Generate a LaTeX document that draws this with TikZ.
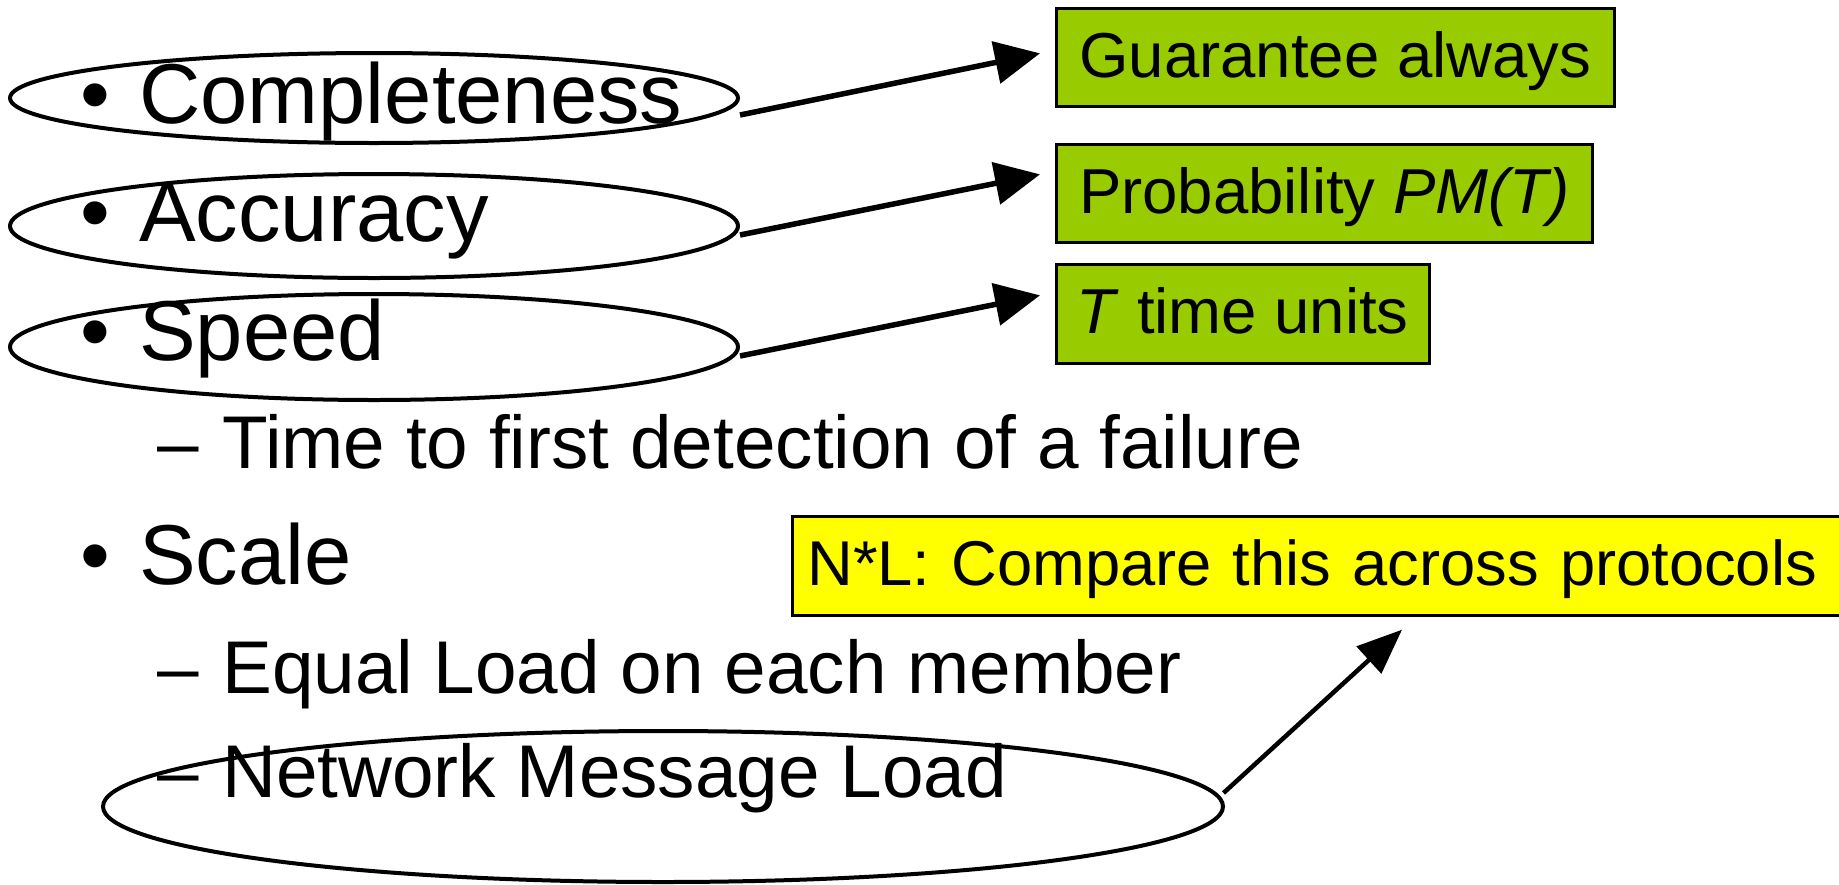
\documentclass[tikz,border=0pt]{standalone}
\usepackage{fontspec}
\setmainfont{Liberation Sans}
\usetikzlibrary{shapes.geometric,arrows.meta}
\definecolor{leaf}{RGB}{153,204,0}
\definecolor{note}{RGB}{255,255,0}

\begin{document}
\begin{tikzpicture}[x=1pt,y=-1pt,
  bigtext/.style={font=\fontsize{85}{100}\selectfont, anchor=base west, inner sep=0pt},
  subtext/.style={font=\fontsize{74.7}{88}\selectfont, anchor=base west, inner sep=0pt},
  ring/.style={draw, ellipse, line width=4pt, inner sep=0pt},
  notebox/.style={draw, line width=2.7pt,
    text height=50pt, text depth=10pt, inner sep=0pt, anchor=north west},
  greenbox/.style={notebox, fill=leaf, font=\fontsize{63.5}{76}\selectfont},
  yellowbox/.style={notebox, fill=note, font=\fontsize{63.3}{76}\selectfont},
  pointer/.style={-{Triangle[length=45pt,width=42pt]}, line width=5.5pt},
  thinpointer/.style={-{Triangle[length=45pt,width=36pt]}, line width=4.5pt},
]
\useasboundingbox (0,0) rectangle (1839,884);
\clip (0,0) rectangle (1839,884);

% bullet list
\node[bigtext] (b1) at (80,123) {•};
\node[bigtext] (w1) at (139,123) {Completeness};
\node[bigtext] (b2) at (80,241) {•};
\node[bigtext] (w2) at (139,241) {Accuracy};
\node[bigtext] (b3) at (80,360) {•};
\node[bigtext] (w3) at (139,360) {Speed};
\node[subtext] (d1) at (157,468) {–};
\node[subtext] (s1) at (222,468) {Time to first detection of a failure};
\node[bigtext] (b4) at (80,584) {•};
\node[bigtext] (w4) at (139,584) {Scale};
\node[subtext] (d2) at (157,693) {–};
\node[subtext] (s2) at (222,693) {Equal Load on each member};
\node[subtext] (d3) at (157,797) {–};
\node[subtext] (s3) at (222,797) {Network Message Load};

% rings around the properties
\node[ring, minimum width=728pt, minimum height=90pt]  (e1) at (374,98) {};
\node[ring, minimum width=728pt, minimum height=104pt] (e2) at (374,226) {};
\node[ring, minimum width=728pt, minimum height=106pt] (e3) at (374,347) {};
\node[ring, minimum width=1120pt, minimum height=151pt] (e4) at (663,806.5) {};

% annotation boxes
\node[greenbox, minimum width=558pt, minimum height=98pt] (g1) at (1055,7) {Guarantee always};
\node[greenbox, minimum width=536pt, minimum height=98pt] (g2) at (1055,143) {Probability \textit{PM(T)}};
\node[greenbox, minimum width=373pt, minimum height=99pt] (g3) at (1055,263) {\textit{T} time units};
\node[yellowbox, minimum width=1062pt, minimum height=99pt, text width=1032pt, align=left]
  (y1) at (791,515) {N*L: Compare this across protocols};

% arrow ends
\coordinate (t1) at ([shift={(0,17)}]e1.east);
\coordinate (h1) at ([shift={(-15,-4)}]g1.west);
\coordinate (t2) at ([shift={(0,9)}]e2.east);
\coordinate (h2) at ([shift={(-15,-19)}]g2.west);
\coordinate (t3) at ([shift={(0,9)}]e3.east);
\coordinate (h3) at ([shift={(-15,-18.5)}]g3.west);
\coordinate (t4) at ([shift={(-1.5,-13.5)}]e4.east);
\coordinate (h4) at ([shift={(611,13)}]y1.south west);

\draw[pointer] (t1) -- (h1);
\draw[pointer] (t2) -- (h2);
\draw[pointer] (t3) -- (h3);
\draw[thinpointer] (t4) -- (h4);
\end{tikzpicture}
\end{document}
